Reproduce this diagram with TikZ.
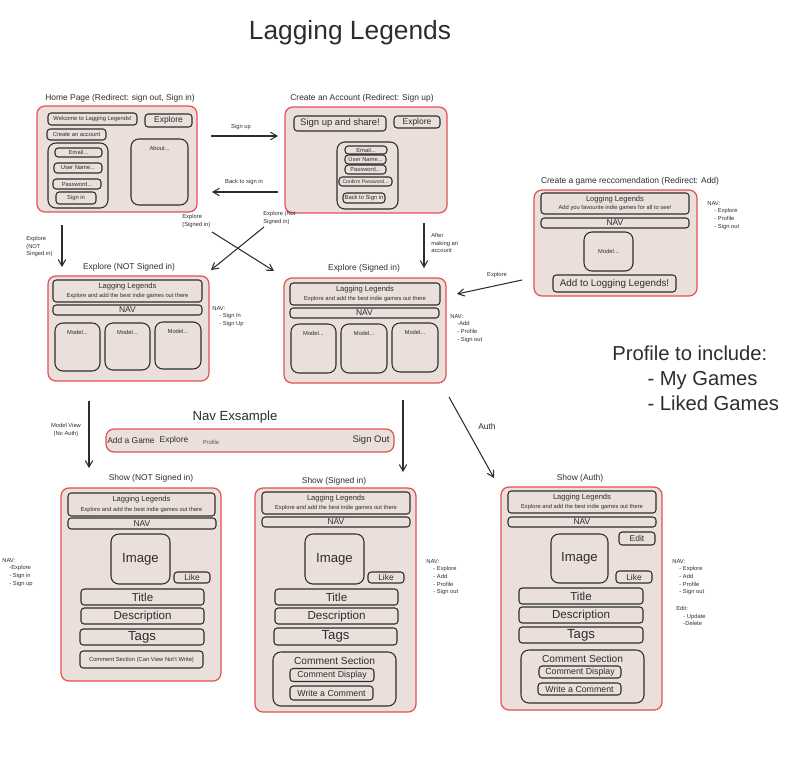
\documentclass[tikz,border=0pt]{standalone}
\usepackage{fontspec}
\setmainfont{Liberation Sans}
\usetikzlibrary{arrows}
\definecolor{paper}{RGB}{234,223,218}
\definecolor{redline}{RGB}{228,80,80}
\definecolor{ink}{RGB}{45,45,45}
\newcommand\tinyfont{\fontsize{3.3}{4.3}\selectfont}
\newcommand\hdfont{\fontsize{4.3}{5}\selectfont}
\newcommand\smallfont{\fontsize{4.8}{5.8}\selectfont}
\newcommand\midfont{\fontsize{6.6}{8}\selectfont}
\newcommand\navfont{\fontsize{7.5}{9}\selectfont}
\newcommand\bigfont{\fontsize{11.5}{14}\selectfont}
\newcommand\titlefont{\fontsize{15}{18}\selectfont}
\tikzstyle{frame} = [rectangle, rounded corners=4.5pt, draw=redline, fill=paper, line width=0.7pt]
\tikzstyle{box} = [rectangle, rounded corners=1.8pt, draw=ink, line width=0.6pt, inner sep=0.5pt, align=center, font=\smallfont]
\tikzstyle{panel} = [box, rounded corners=4.5pt]
\tikzstyle{lbl} = [font=\smallfont, inner sep=0]
\tikzstyle{note} = [font=\tinyfont, align=left, anchor=north west, inner sep=0]
\tikzstyle{arrow} = [->, >=angle 60, line width=0.6pt, draw=ink]
\tikzset{sz/.style 2 args={minimum width=#1*0.02cm, minimum height=#2*0.02cm}}

\begin{document}
\begin{tikzpicture}[x=0.02cm, y=-0.02cm, color=ink]
	\useasboundingbox (0,0) rectangle (807,757);

	\node (title) [font=\titlefont] at (350,33) {Lagging Legends};

	% home page
	\node (hp-lbl) [lbl] at (120,98) {Home Page (Redirect: sign out, Sign in)};
	\node (hp) [frame, sz={160}{106}] at (117,159) {};
	\node (hp-welcome) [box, sz={89}{12}, font=\tinyfont] at (92.5,119) {Welcome to Lagging Legends!};
	\node (hp-explore) [box, sz={47}{13}] at (168.5,120.5) {Explore};
	\node (hp-create) [box, sz={59}{11}, font=\tinyfont] at (76.5,134.5) {Create an account};
	\node (hp-login) [panel, sz={60}{65}] at (78,175.5) {};
	\node (hp-email) [box, sz={47}{9}, font=\tinyfont] at (78.5,152.5) {Email...};
	\node (hp-user) [box, sz={48}{10}, font=\tinyfont] at (78,168) {User Name...};
	\node (hp-pass) [box, sz={48}{10}, font=\tinyfont] at (77,184) {Password...};
	\node (hp-signin) [box, sz={40}{12}, font=\tinyfont] at (76,198) {Sign in};
	\node (hp-about) [panel, sz={57}{66}, label={[name=hp-about-t, font=\tinyfont, anchor=north, inner sep=4pt]north:About...}] at (159.5,172) {};

	% create an account
	\node (ca-lbl) [lbl] at (362,98) {Create an Account (Redirect: Sign up)};
	\node (ca) [frame, sz={162}{106}] at (366,160) {};
	\node (ca-share) [box, sz={92}{15}, font=\fontsize{5.4}{6}\selectfont] at (340,123.5) {Sign up and share!};
	\node (ca-explore) [box, sz={46}{12}] at (417,122) {Explore};
	\node (ca-form) [panel, sz={61}{67}] at (367.5,175.5) {};
	\node (ca-email) [box, sz={42}{8}, font=\tinyfont] at (366,150) {Email...};
	\node (ca-user) [box, sz={41}{9}, font=\tinyfont] at (365.5,159.5) {User Name...};
	\node (ca-pass) [box, sz={41}{9}, font=\tinyfont] at (365.5,169.5) {Password...};
	\node (ca-confirm) [box, sz={53}{9}, font=\fontsize{2.9}{3.5}\selectfont] at (365.5,181.5) {Confirm Password...};
	\node (ca-back) [box, sz={42}{10}, font=\tinyfont] at (364,198) {Back to Sign in};

	% create a game recommendation
	\node (gr-lbl) [lbl] at (630,181) {Create a game reccomendation (Redirect: Add)};
	\node (gr) [frame, sz={163}{106}] at (615.5,243) {};
	\node (gr-head) [box, sz={148}{21}, font=\tinyfont] at (615,203.5) {{\hdfont Logging Legends}\\[0.6pt]Add you favourite indie games for all to see!};
	\node (gr-nav) [box, sz={148}{10}] at (615,223) {NAV};
	\node (gr-model) [panel, sz={49}{39}, font=\tinyfont] at (608.5,251.5) {Model...};
	\node (gr-add) [box, sz={123}{17}, font=\fontsize{5.6}{6.5}\selectfont] at (614.5,283.5) {Add to Logging Legends!};
	\node (gr-note) [note] at (707,201) {NAV:\\\hspace*{4pt}- Explore\\\hspace*{4pt}- Profile\\\hspace*{4pt}- Sign out};

	% explore (not signed in)
	\node (en-lbl) [lbl] at (129,267) {Explore (NOT Signed in)};
	\node (en) [frame, sz={161}{105}] at (128.5,328.5) {};
	\node (en-head) [box, sz={149}{22}, font=\tinyfont] at (127.5,291) {{\hdfont Lagging Legends}\\[1pt]Explore and add the best indie games out there};
	\node (en-nav) [box, sz={149}{10}] at (127.5,310) {NAV};
	\node (en-m1) [panel, sz={45}{48}, label={[name=en-m1-t, font=\tinyfont, anchor=north, inner sep=4pt]north:Model...}] at (77.5,347) {};
	\node (en-m2) [panel, sz={45}{47}, label={[name=en-m2-t, font=\tinyfont, anchor=north, inner sep=4pt]north:Model...}] at (127.5,346.5) {};
	\node (en-m3) [panel, sz={46}{47}, label={[name=en-m3-t, font=\tinyfont, anchor=north, inner sep=4pt]north:Model...}] at (178,345.5) {};
	\node (en-note) [note] at (212,306) {NAV:\\\hspace*{4pt}- Sign In\\\hspace*{4pt}- Sign Up};

	% explore (signed in)
	\node (es-lbl) [lbl] at (364,268) {Explore (Signed in)};
	\node (es) [frame, sz={162}{105}] at (365,330.5) {};
	\node (es-head) [box, sz={150}{22}, font=\tinyfont] at (365,294) {{\hdfont Lagging Legends}\\[1pt]Explore and add the best indie games out there};
	\node (es-nav) [box, sz={149}{10}] at (364.5,313) {NAV};
	\node (es-m1) [panel, sz={45}{49}, label={[name=es-m1-t, font=\tinyfont, anchor=north, inner sep=4pt]north:Model...}] at (313.5,348.5) {};
	\node (es-m2) [panel, sz={46}{49}, label={[name=es-m2-t, font=\tinyfont, anchor=north, inner sep=4pt]north:Model...}] at (364,348.5) {};
	\node (es-m3) [panel, sz={46}{49}, label={[name=es-m3-t, font=\tinyfont, anchor=north, inner sep=4pt]north:Model...}] at (415,347.5) {};
	\node (es-note) [note] at (450,314) {NAV:\\\hspace*{4pt}-Add\\\hspace*{4pt}- Profile\\\hspace*{4pt}- Sign out};

	% nav example
	\node (nav-lbl) [font=\navfont] at (235,417) {Nav Exsample};
	\node (nav) [frame, sz={288}{23}] at (250,440.5) {};
	\node (nav-add) [lbl] at (131,440) {Add a Game};
	\node (nav-explore) [lbl] at (174,440) {Explore};
	\node (nav-profile) [lbl, font=\tinyfont, text=ink!80] at (211,442) {Profile};
	\node (nav-out) [lbl, font=\fontsize{5.4}{6}\selectfont] at (371,440) {Sign Out};

	% show (not signed in)
	\node (sn-lbl) [lbl] at (151,478) {Show (NOT Signed in)};
	\node (sn) [frame, sz={160}{193}] at (141,584.5) {};
	\node (sn-head) [box, sz={147}{23}, font=\tinyfont] at (141.5,504.5) {{\hdfont Lagging Legends}\\[1pt]Explore and add the best indie games out there};
	\node (sn-nav) [box, sz={148}{11}] at (142,523.5) {NAV};
	\node (sn-img) [panel, sz={59}{50}, font=\navfont] at (140.5,559) {Image};
	\node (sn-like) [box, sz={36}{11}] at (192,577.5) {Like};
	\node (sn-title) [box, sz={123}{16}, font=\midfont] at (142.5,597) {Title};
	\node (sn-desc) [box, sz={123}{16}, font=\midfont] at (142.5,616) {Description};
	\node (sn-tags) [box, sz={124}{16}, font=\navfont] at (142,637) {Tags};
	\node (sn-comm) [box, sz={123}{17}, font=\tinyfont] at (141.5,659.5) {Comment Section (Can View Not't Write)};
	\node (sn-note) [note] at (2,558) {NAV:\\\hspace*{4pt}-Explore\\\hspace*{4pt}- Sign in\\\hspace*{4pt}- Sign up};

	% show (signed in)
	\node (ss-lbl) [lbl] at (334,481) {Show (Signed in)};
	\node (ss) [frame, sz={161}{224}] at (335.5,600) {};
	\node (ss-head) [box, sz={148}{22}, font=\tinyfont] at (336,503) {{\hdfont Lagging Legends}\\[1pt]Explore and add the best indie games out there};
	\node (ss-nav) [box, sz={148}{10}] at (336,522) {NAV};
	\node (ss-img) [panel, sz={59}{50}, font=\navfont] at (334.5,559) {Image};
	\node (ss-like) [box, sz={36}{11}] at (386,577.5) {Like};
	\node (ss-title) [box, sz={123}{16}, font=\midfont] at (336.5,597) {Title};
	\node (ss-desc) [box, sz={123}{16}, font=\midfont] at (336.5,616) {Description};
	\node (ss-tags) [box, sz={123}{17}, font=\navfont] at (335.5,636.5) {Tags};
	\node (ss-comm) [panel, sz={123}{54}, label={[name=ss-comm-t, font=\fontsize{5.8}{7}\selectfont, anchor=north, inner sep=3pt]north:Comment Section}] at (334.5,679) {};
	\node (ss-disp) [box, sz={84}{13}, font=\fontsize{5}{6}\selectfont] at (332,675) {Comment Display};
	\node (ss-write) [box, sz={83}{14}, font=\fontsize{5}{6}\selectfont] at (331.5,693) {Write a Comment};
	\node (ss-note) [note] at (426,559) {NAV:\\\hspace*{4pt}- Explore\\\hspace*{4pt}- Add\\\hspace*{4pt}- Profile\\\hspace*{4pt}- Sign out};

	% show (auth)
	\node (sa-lbl) [lbl] at (580,478) {Show (Auth)};
	\node (sa) [frame, sz={161}{223}] at (581.5,598.5) {};
	\node (sa-head) [box, sz={148}{22}, font=\tinyfont] at (582,502) {{\hdfont Lagging Legends}\\[1pt]Explore and add the best indie games out there};
	\node (sa-nav) [box, sz={148}{10}] at (582,522) {NAV};
	\node (sa-edit) [box, sz={36}{13}] at (637,538.5) {Edit};
	\node (sa-img) [panel, sz={57}{49}, font=\navfont] at (579.5,558.5) {Image};
	\node (sa-like) [box, sz={36}{12}] at (634,577) {Like};
	\node (sa-title) [box, sz={124}{16}, font=\midfont] at (581,596) {Title};
	\node (sa-desc) [box, sz={124}{16}, font=\midfont] at (581,615) {Description};
	\node (sa-tags) [box, sz={124}{16}, font=\navfont] at (581,635) {Tags};
	\node (sa-comm) [panel, sz={123}{53}, label={[name=sa-comm-t, font=\fontsize{5.8}{7}\selectfont, anchor=north, inner sep=3pt]north:Comment Section}] at (582.5,676.5) {};
	\node (sa-disp) [box, sz={82}{12}, font=\fontsize{5}{6}\selectfont] at (580,672) {Comment Display};
	\node (sa-write) [box, sz={83}{12}, font=\fontsize{5}{6}\selectfont] at (579.5,689) {Write a Comment};
	\node (sa-note) [note] at (672,559) {NAV:\\\hspace*{4pt}- Explore\\\hspace*{4pt}- Add\\\hspace*{4pt}- Profile\\\hspace*{4pt}- Sign out};
	\node (sa-edit-note) [note] at (676,606) {Edit:\\\hspace*{4pt}- Update\\\hspace*{4pt}-Delete};

	\node (profile) [font=\bigfont, align=left, anchor=north west, inner sep=0] at (612,346) {Profile to include:\\\hspace*{20pt}- My Games\\\hspace*{20pt}- Liked Games};

	% arrow ends
	\coordinate (su-a) at (211,136); \coordinate (su-b) at (278,136);
	\coordinate (bk-a) at (278,192); \coordinate (bk-b) at (212,192);
	\coordinate (xs-a) at (212,232); \coordinate (xs-b) at (274,271);
	\coordinate (xn-a) at (264,227); \coordinate (xn-b) at (211,270);
	\coordinate (hd-a) at (62,225); \coordinate (hd-b) at (62,267);
	\coordinate (cd-a) at (424,223); \coordinate (cd-b) at (424,268);
	\coordinate (gx-a) at (522,280); \coordinate (gx-b) at (457,294);
	\coordinate (mv-a) at (89,401); \coordinate (mv-b) at (89,468);
	\coordinate (sd-a) at (403,400); \coordinate (sd-b) at (403,472);
	\coordinate (au-a) at (449,397); \coordinate (au-b) at (494,478);

	\draw[arrow] (su-a) -- (su-b);
	\draw[arrow] (bk-a) -- (bk-b);
	\draw[arrow] (xs-a) -- (xs-b);
	\draw[arrow] (xn-a) -- (xn-b);
	\draw[arrow] (hd-a) -- (hd-b);
	\draw[arrow] (cd-a) -- (cd-b);
	\draw[arrow] (gx-a) -- (gx-b);
	\draw[arrow] (mv-a) -- (mv-b);
	\draw[arrow] (sd-a) -- (sd-b);
	\draw[arrow] (au-a) -- (au-b);

	% arrow labels
	\node (su-t) [note, anchor=center] at (241,127) {Sign up};
	\node (bk-t) [note, anchor=center] at (244,182) {Back to sign in};
	\node (xs-t) [note] at (182,214) {Explore\\(Signed in)};
	\node (xn-t) [note] at (263,211) {Explore (Not\\Signed in)};
	\node (hd-t) [note] at (26,236) {Explore\\(NOT\\Singed in)};
	\node (cd-t) [note] at (431,233) {After\\making an\\account};
	\node (gx-t) [note, anchor=center] at (497,275) {Explore};
	\node (mv-t) [note, align=center, anchor=center] at (66,430) {Model View\\(No Auth)};
	\node (au-t) [lbl] at (487,426) {Auth};
\end{tikzpicture}
\end{document}
